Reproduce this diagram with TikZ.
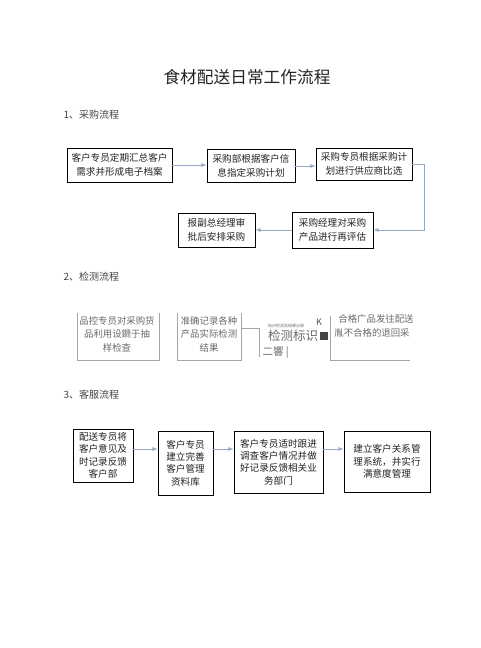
\documentclass[tikz,border=0pt]{standalone}
\usepackage{fontspec}
\setmainfont{Noto Sans CJK SC}
\usepackage{tikz}
\usetikzlibrary{arrows,shadows}
\definecolor{flowblue}{RGB}{150,168,196}
\definecolor{ink}{RGB}{35,35,35}
\definecolor{greytext}{RGB}{105,105,105}
\definecolor{greyline}{RGB}{165,165,165}

\begin{document}
\begin{tikzpicture}
[x=1pt,y=-1pt,>=latex]
\tikzset{
	procbox/.style = {draw, thick, fill=white, align=center, inner sep=0, text=ink,
		drop shadow={shadow xshift=0.9pt, shadow yshift=-0.9pt, fill=black!60, opacity=.7}},
	boxtext/.style = {font=\fontsize{9.6}{14}\selectfont},
	tallboxtext/.style = {font=\fontsize{9.6}{12.4}\selectfont},
	flow/.style = {->, flowblue, line width=0.8pt},
	sectitle/.style = {anchor=west, text=ink!85, font=\fontsize{10}{12}\selectfont},
	qcline/.style = {greyline, line width=0.8pt},
	qctext/.style = {text=greytext, align=center, font=\fontsize{9.4}{13.4}\selectfont}
}
\useasboundingbox (0,0) rectangle (480,648);

\node(title) [text=ink, font=\fontsize{16.7}{20}\selectfont] at (247,77) {食材配送日常工作流程};

% 1
\node(sec1) [sectitle] at (60,115) {1、采购流程};
\node(A) [procbox, boxtext, minimum width=105, minimum height=34] at (119.5,165) {客户专员定期汇总客户\\需求并形成电子档案};
\node(B) [procbox, boxtext, minimum width=88, minimum height=33] at (251,166) {采购部根据客户信\\息指定采购计划};
\node(C) [procbox, boxtext, minimum width=96, minimum height=32] at (364,164) {采购专员根据采购计\\划进行供应商比选};
\node(D) [procbox, boxtext, minimum width=81, minimum height=36] at (332.5,230) {采购经理对采购\\产品进行再评估};
\node(E) [procbox, boxtext, minimum width=77, minimum height=34] at (216.5,230) {报副总经理审\\批后安排采购};
\coordinate(turn1) at (424,164);

\draw [flow] (A.east) -- (A.east -| B.west);
\draw [flow] (B.east) -- (B.east -| C.west);
\draw [flow] (C.east) -- (turn1) |- (D.east);
\draw [flow] (D.west) -- (D.west -| E.east);

% 2
\node(sec2) [sectitle] at (60,277) {2、检测流程};
\draw [qcline] (77,313) -- (77,360) -- (159,360) -- (159,313);
\draw [qcline] (177,313) -- (177,360) -- (241,360) -- (241,313);
\draw [qcline] (330,316) -- (330,360) -- (410,360);
\draw [qcline] (241,328) -- (259,328) -- (259,357);
\node(qc1) [qctext] at (117,334) {品控专员对采购货\\品利用设鐧于抽\\样检查};
\node(qc2) [qctext] at (209,334) {准确记录各种\\产品实际检测\\结果};
\node(qc4) [qctext] at (372,326) {\hspace*{8pt}合格广品发往配送\\胤不合格的退回采};
\node(mark) [text=greytext, font=\fontsize{12.5}{14}\selectfont] at (293,336) {检测标识};
\node(marksmall) [text=greytext, font=\fontsize{4}{5}\selectfont] at (286,326) {标识检测及结果记录};
\node(markk) [text=ink!80, font=\fontsize{9}{10}\selectfont] at (319,322) {K};
\node(marksq) [fill=ink!85, minimum width=8, minimum height=8, inner sep=0] at (324,336) {};
\node(markb) [text=greytext, font=\fontsize{10.5}{12}\selectfont, anchor=west] at (259,352) {二響 |};

% 3
\node(sec3) [sectitle] at (60,395) {3、客服流程};
\node(F) [procbox, tallboxtext, minimum width=60, minimum height=53] at (103,455.5) {配送专员将\\客户意见及\\时记录反馈\\客户部};
\node(G) [procbox, tallboxtext, minimum width=55, minimum height=64] at (185.5,463) {客户专员\\建立完善\\客户管理\\资料库};
\node(H) [procbox, tallboxtext, minimum width=89, minimum height=62] at (278.5,462) {客户专员适时跟进\\调查客户情况并做\\好记录反馈相关业\\务部门};
\node(I) [procbox, tallboxtext, minimum width=86, minimum height=61] at (387,461.5) {建立客户关系管\\理系统，并实行\\满意度管理};
\coordinate(row3) at (0,449);

\draw [flow] (F.east |- row3) -- (G.west |- row3);
\draw [flow] (G.east |- row3) -- (H.west |- row3);
\draw [flow] (H.east |- row3) -- (I.west |- row3);

\end{tikzpicture}
\end{document}
